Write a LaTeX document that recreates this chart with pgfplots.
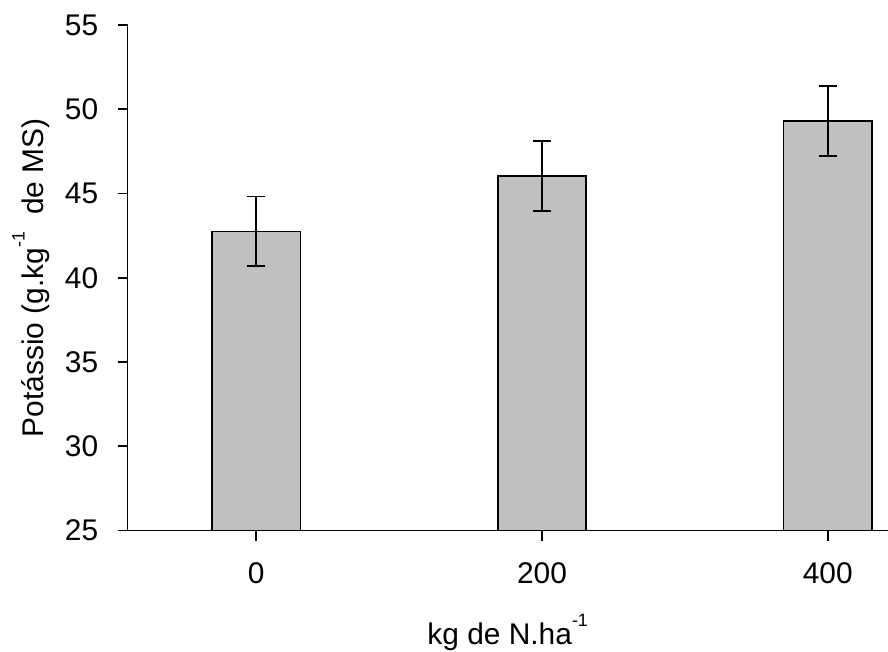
\documentclass[border=0pt]{standalone}
\usepackage{fontspec}
\setmainfont{Liberation Sans}
\usepackage{pgfplots}
\pgfplotsset{compat=1.18}
\definecolor{barfill}{RGB}{192,192,192}
\newcommand{\supx}[1]{\raisebox{0.62em}{\fontsize{18}{20}\selectfont #1}}
\begin{document}
\begin{tikzpicture}
\begin{axis}[
  scale only axis, width=760bp, height=505.5bp,
  xmin=-90, xmax=442, ymin=25, ymax=55,
  axis lines*=left,
  axis line style={line width=1.6bp, black},
  xtick={0,200,400}, ytick={25,30,...,55},
  tick align=outside, major tick length=10bp,
  tick style={black, line width=1.6bp},
  /pgf/number format/assume math mode=true,
  ticklabel style={font=\fontsize{30}{36}\selectfont},
  xticklabel style={yshift=-19bp},
  yticklabel style={xshift=-16bp},
  every axis y label/.style={at={(rel axis cs:0,0.5)}, xshift=-97bp, rotate=90, anchor=center},
  every axis x label/.style={at={(rel axis cs:0.5,0)}, yshift=-102bp, anchor=center},
  label style={font=\fontsize{30}{36}\selectfont},
  ylabel={Potássio (g.kg\supx{-1}\hspace{0.3em} de MS)},
  xlabel={kg de N.ha\supx{-1}},
  ybar, bar width=62,
]
\addplot[fill=barfill, draw=black, line width=1.6bp,
  error bars/.cd, y dir=both, y explicit,
  error bar style={line width=1.6bp, black},
  error mark options={rotate=90, mark size=9bp, line width=1.6bp, black}]
  coordinates {
    (0,42.75) +- (0,2.07)
    (200,46.04) +- (0,2.08)
    (400,49.30) +- (0,2.08)
  };
\end{axis}
\pgfresetboundingbox
\useasboundingbox (-127.7bp,-121.5bp) rectangle (760.3bp,530.5bp);
\end{tikzpicture}
\end{document}
